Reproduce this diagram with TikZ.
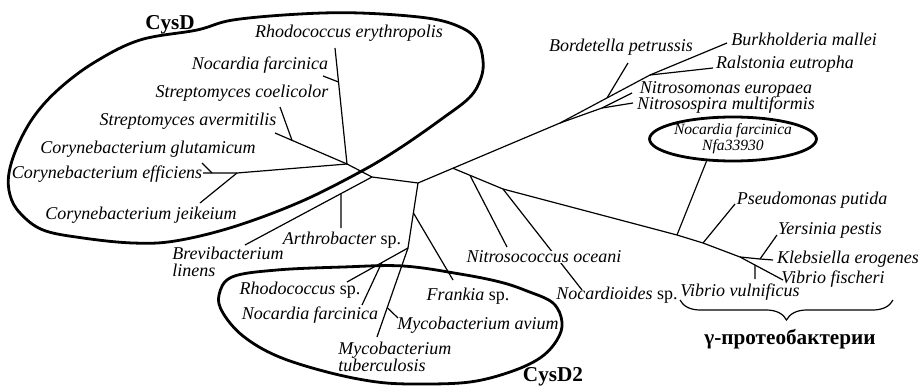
\documentclass[tikz,border=0pt]{standalone}
\usepackage{fontspec}
\setmainfont{Liberation Serif}
\usepackage{tikz}
\usetikzlibrary{calc,positioning,shapes.geometric,decorations.pathreplacing}
\tikzset{
  br/.style={line width=0.6pt},
  grp/.style={line width=1.4pt},
  sp/.style={font=\fontsize{9}{8.5}\selectfont\itshape,inner sep=0pt,align=left},
  ttl/.style={font=\fontsize{10.6}{12}\selectfont\bfseries,inner sep=0pt}
}
\newcommand{\spx}[1]{#1\textup{ sp.}}

\begin{document}
\begin{tikzpicture}[x=0.5pt,y=0.5pt]
\useasboundingbox (0,0) rectangle (918,387);
% CysD part
\coordinate (C0) at (347,223);
\coordinate (rhE) at (335,339);
\coordinate (noB) at ($(C0)!0.707!(rhE)$);
\coordinate (noE) at (323,311);
\coordinate (stAE) at (275,254);
\coordinate (strN) at ($(C0)!0.764!(stAE)$);
\coordinate (stCE) at (280,280);
\coordinate (corN) at (237,214);
\coordinate (corGB) at (212,214);
\coordinate (corGE) at (202,224);
\coordinate (corEE) at (203,214);
\coordinate (corJE) at (200,184);
% middle
\coordinate (A1) at (372,210);
\coordinate (brE) at (245,142);
\coordinate (arB) at ($(A1)!0.244!(brE)$);
\coordinate (arE) at (341,159);
\coordinate (J1) at (418,204);
\coordinate (M1) at (408,139);
\coordinate (frB) at ($(J1)!0.46!(M1)$);
\coordinate (frE) at (453,107);
\coordinate (rsE) at (347,105);
\coordinate (rsB) at ($(M1)!0.43!(rsE)$);
\coordinate (nfE) at (362,82);
\coordinate (mtE) at (377,50);
\coordinate (mtB) at ($(M1)!0.67!(mtE)$);
\coordinate (maE) at (398,69);
% upper right
\coordinate (N2) at (560,264);
\coordinate (N1) at ($(J1)!0.246!(N2)$);
\coordinate (ntN) at (602,279);
\coordinate (nmE) at (632,294);
\coordinate (nsE) at (633,284);
\coordinate (raN) at (650,312);
\coordinate (bdN) at ($(N2)!0.522!(raN)$);
\coordinate (bdE) at (628,324);
\coordinate (raE) at (713,319);
\coordinate (buE) at (727,344);
% gamma part
\coordinate (ndB) at (503,198);
\coordinate (nscB) at ($(N1)!0.34!(ndB)$);
\coordinate (nscE) at (507,140);
\coordinate (ndE) at (582,97);
\coordinate (g1) at (677,152);
\coordinate (g2) at (703,144);
\coordinate (g3) at (740,130);
\coordinate (psE) at (735,183);
\coordinate (yN) at (760,128);
\coordinate (yeE) at (777,152);
\coordinate (klE) at (773,127);
\coordinate (viE) at (783,107);
\coordinate (vvB) at ($(g3)!0.35!(viE)$);
\coordinate (vvE) at (755,108);
\node[ellipse,draw,grp,minimum width=75pt,minimum height=22pt,inner sep=0pt,
  align=center,font=\fontsize{7.8}{8}\selectfont\itshape] (nfa) at (733,248)
  {Nocardia farcinica\\Nfa33930};

% branches
\draw[br] (rhE) -- (noB) -- (C0);
\draw[br] (noB) -- (noE);
\draw[br] (stAE) -- (strN) -- (C0);
\draw[br] (strN) -- (stCE);
\draw[br] (corEE) -- (corGB) -- (corN) -- (C0);
\draw[br] (corGB) -- (corGE);
\draw[br] (corN) -- (corJE);
\draw[br] (C0) -- (A1) -- (J1);
\draw[br] (A1) -- (arB) -- (brE);
\draw[br] (arB) -- (arE);
\draw[br] (J1) -- (frB) -- (M1);
\draw[br] (frB) -- (frE);
\draw[br] (M1) -- (rsB) -- (rsE);
\draw[br] (rsB) -- (nfE);
\draw[br] (M1) -- (mtB) -- (mtE);
\draw[br] (mtB) -- (maE);
\draw[br] (J1) -- (N1) -- (N2) -- (bdN) -- (raN) -- (buE);
\draw[br] (N2) -- (ntN) -- (nmE);
\draw[br] (ntN) -- (nsE);
\draw[br] (bdN) -- (bdE);
\draw[br] (raN) -- (raE);
\draw[br] (N1) -- (nscB) -- (ndB) -- (g1) -- (g2) -- (g3) -- (vvB) -- (viE);
\draw[br] (nscB) -- (nscE);
\draw[br] (ndB) -- (ndE);
\draw[br] (g1) -- (nfa.220);
\draw[br] (g2) -- (psE);
\draw[br] (g3) -- (yN) -- (klE);
\draw[br] (yN) -- (yeE);
\draw[br] (vvB) -- (vvE);

% groups
\draw[grp] plot[smooth cycle,tension=0.6] coordinates {(197,357) (140,347) (95,325)
  (60,299) (35,272) (18,242) (9,214) (10,192) (20,174) (43,157) (83,149) (133,144)
  (175,146) (233,160) (300,185) (360,215) (400,239) (443,269) (470,290) (481,309)
  (483,327) (477,347) (460,360) (427,369) (360,374) (300,373) (233,367)};
\draw[grp] plot[smooth cycle,tension=0.6] coordinates {(232,110) (277,117) (343,120)
  (403,121) (460,113) (500,105) (527,96) (553,84) (562,65) (557,47) (540,29) (510,15)
  (470,5) (420,3) (377,5) (327,15) (277,31) (243,51) (223,74) (219,92)};

% labels
\node[sp] (rhEl) at (349,354) {Rhodococcus erythropolis};
\node[sp] (noEl) at (260,322) {Nocardia farcinica};
\node[sp] (stCl) at (242,294) {Streptomyces coelicolor};
\node[sp] (stAl) at (188,266) {Streptomyces avermitilis};
\node[sp] (corGl) at (148,238) {Corynebacterium glutamicum};
\node[sp] (corEl) at (107,213) {Corynebacterium efficiens};
\node[sp] (corJl) at (141,172) {Corynebacterium jeikeium};
\node[sp,anchor=north west] (brl) at (172,140) {Brevibacterium\\linens};
\node[sp] (arl) at (342,147) {\spx{Arthrobacter}};
\node[sp] (rsl) at (300,97) {\spx{Rhodococcus}};
\node[sp] (nfl) at (310,72) {Nocardia farcinica};
\node[sp,anchor=north west] (mtl) at (338,45) {Mycobacterium\\tuberculosis};
\node[sp] (frl) at (468,91) {\spx{Frankia}};
\node[sp] (mal) at (478,62) {Mycobacterium avium};
\node[sp] (bdl) at (621,340) {Bordetella petrussis};
\node[sp] (bul) at (804,348) {Burkholderia mallei};
\node[sp] (ral) at (785,323) {Ralstonia eutropha};
\node[sp] (nml) at (726,298) {Nitrosomonas europaea};
\node[sp] (nsl) at (726,282) {Nitrosospira multiformis};
\node[sp] (psl) at (812,187) {Pseudomonas putida};
\node[sp] (yel) at (830,157) {Yersinia pestis};
\node[sp] (kll) at (848,128) {Klebsiella erogenes};
\node[sp] (vil) at (833,108) {Vibrio fischeri};
\node[sp] (vvl) at (740,95) {Vibrio vulnificus};
\node[sp] (ndl) at (617,92) {\spx{Nocardioides}};
\node[sp,fill=white] (nscl) at (544,130) {Nitrosococcus oceani};
\node[ttl] (cysd) at (170,362) {CysD};
\node[ttl] (cysd2) at (553,10) {CysD2};
\coordinate (brR) at (893,87);
\coordinate (brL) at (680,87);
\draw[br,decorate,decoration={brace,amplitude=10pt}] (brR) -- (brL);
\node[ttl] (gam) at (790,48) {γ-протеобактерии};
\end{tikzpicture}
\end{document}
